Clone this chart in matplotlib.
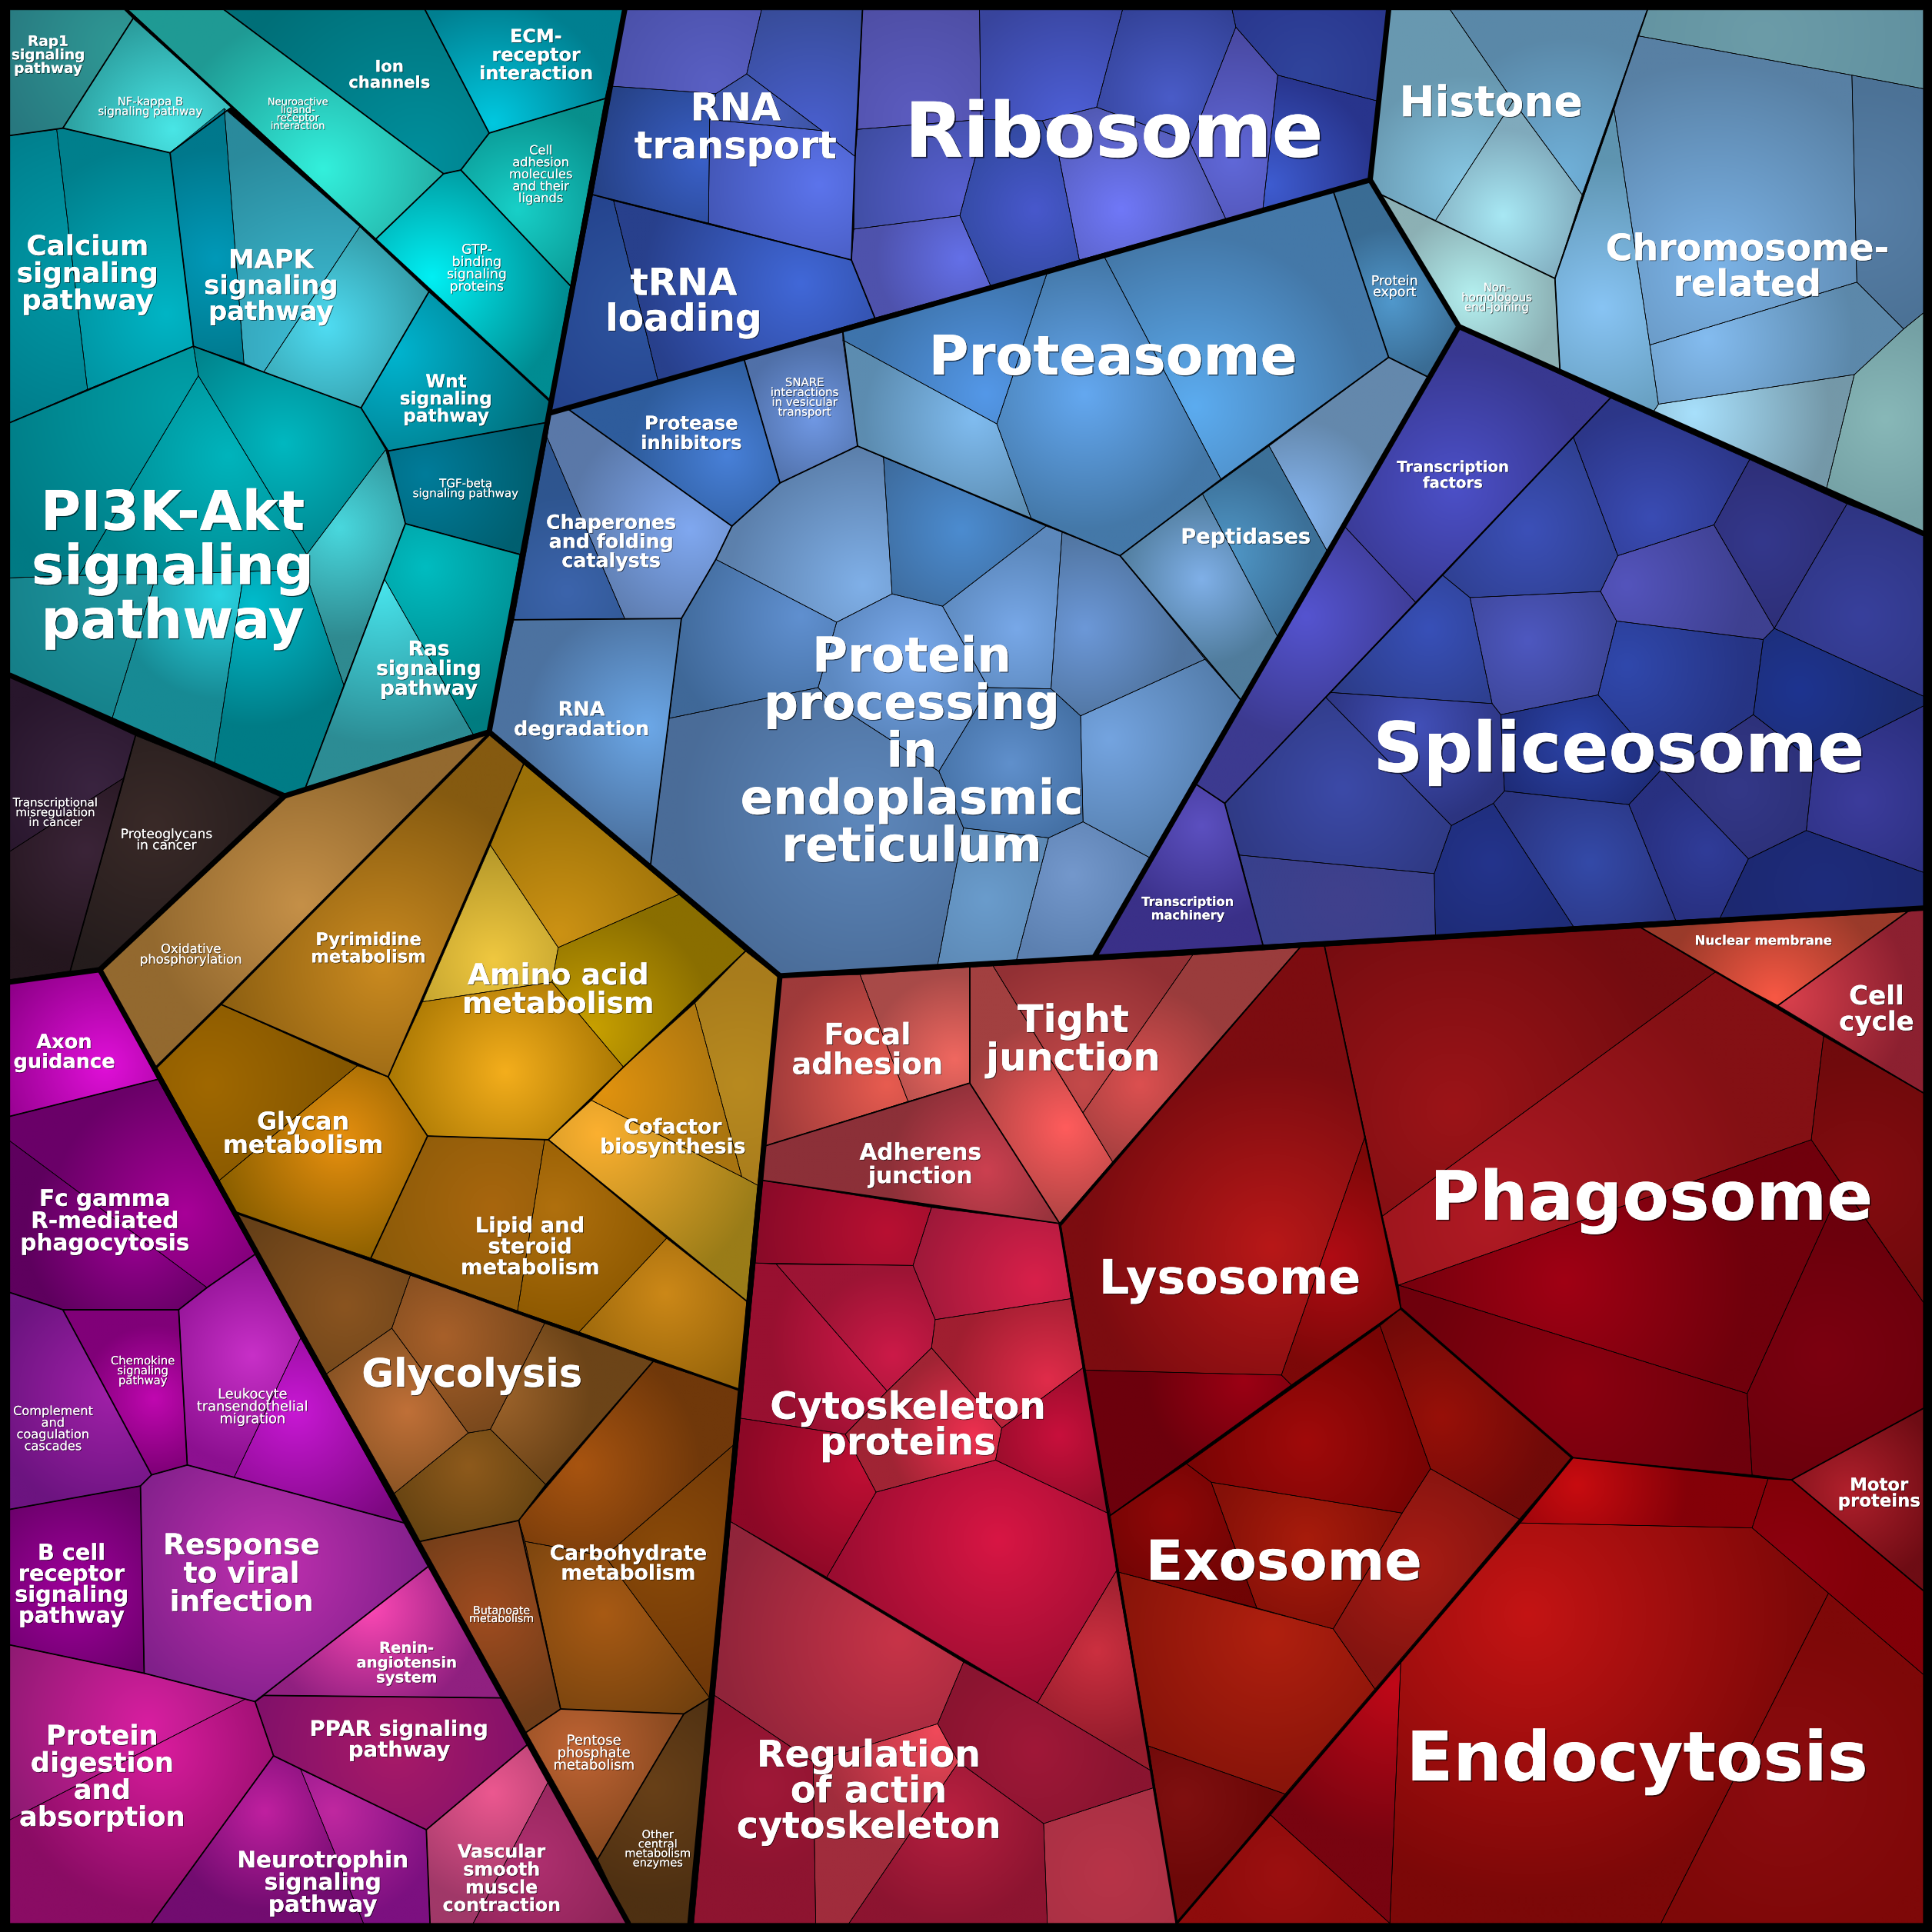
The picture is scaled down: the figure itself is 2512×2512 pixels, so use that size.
import matplotlib
matplotlib.use("Agg")
import matplotlib.pyplot as plt
import matplotlib.patheffects as pe
from matplotlib.colors import to_rgb
from matplotlib.font_manager import FontProperties
from matplotlib.patches import Polygon
from matplotlib.textpath import TextPath
import numpy as np

# picture units: the map is 1568 units across
SIZE = 1568
UNIT_PX = 2512 / SIZE

# --- cells of the map, one list per colour family
teal_cells = [
    [(8,8),(101,8),(108,15),(51,104),(8,110)],
    [(108,15),(188,87),(138,124),(51,104)],
    [(8,110),(46,105),(71,316),(8,343)],
    [(46,105),(51,104),(138,124),(157,281),(71,316)],
    [(138,124),(182,88),(198,295),(157,281)],
    [(182,88),(292,184),(214,302),(198,295)],
    [(292,184),(348,237),(293,331),(214,302)],
    [(348,237),(446,325),(443,343),(315,366),(293,331)],
    [(315,366),(443,343),(423,450),(329,425)],
    [(104,8),(182,8),(360,141),(305,194)],
    [(182,8),(345,8),(397,108),(374,138),(360,141)],
    [(345,8),(507,8),(491,80),(397,108)],
    [(397,108),(491,80),(463,232),(374,138)],
    [(360,141),(374,138),(463,232),(446,325),(305,194)],
    [(8,343),(71,316),(157,281),(161,305),(64,467),(8,469)],
    [(157,281),(214,302),(293,331),(313,365),(249,450),(161,305)],
    [(161,305),(249,450),(247,462),(198,464),(127,466),(64,467)],
    [(313,365),(329,425),(279,556),(247,462),(249,450)],
    [(8,469),(64,467),(127,466),(91,583),(8,549)],
    [(127,466),(198,464),(174,620),(91,583)],
    [(198,464),(247,462),(279,556),(248,639),(231,646),(174,620)],
    [(329,425),(422,450),(397,593),(384,596),(312,470)],
    [(312,470),(384,596),(248,639)],
]
teal_glow = [
    (100,40,110,'#2f9a96','#28787f'), (140,105,95,'#49e6e6','#2a9a9a'),
    (70,220,150,'#009aa8','#007a88'), (135,255,140,'#00b5c5','#007f8c'),
    (175,210,90,'#0099b8','#00788c'), (265,280,170,'#3fc0d8','#2a8a9c'),
    (265,265,100,'#4fdcf2','#30929c'), (320,285,130,'#00b5d0','#006f7c'),
    (345,385,90,'#007c9a','#005f70'), (262,137,130,'#33f0dc','#1f9a94'),
    (340,130,170,'#008f9c','#006f78'), (400,100,100,'#00c8e0','#007f90'),
    (420,170,90,'#18d0c8','#088f8c'), (350,225,110,'#00f0f4','#008c92'),
    (150,330,170,'#00a0a8','#007a84'), (230,360,110,'#00b8c0','#007f88'),
    (185,370,120,'#00b4bc','#008890'), (275,428,90,'#49d8de','#2f8a90'),
    (115,470,130,'#1f9aa4','#157f88'), (178,483,85,'#2ad4e2','#178a94'),
    (205,490,100,'#00bccc','#007c86'), (345,460,130,'#00bcc0','#007c80'),
    (310,475,130,'#48e4ec','#2c8c94'),
]

dark_cells = [
    [(8,549),(110,597),(101,631),(8,691)],
    [(8,691),(101,631),(57,788),(8,795)],
    [(110,597),(231,646),(81,787),(57,788)],
]
dark_glow = [
    (75,640,90,'#3a2440','#28162c'), (70,690,90,'#3b2438','#24161e'),
    (125,670,120,'#3a2a28','#241c1c'),
]

orange_cells = [
    [(231,646),(397,594),(179,815),(127,866),(81,787)],
    [(397,596),(425,620),(315,874),(179,815)],
    [(425,620),(551,726),(453,769),(398,686)],
    [(398,686),(453,769),(448,797),(343,813)],
    [(453,769),(551,726),(605,772),(506,866),(448,797)],
    [(343,813),(448,797),(506,866),(445,925),(347,922),(315,874)],
    [(605,772),(632,793),(615,962),(602,955),(564,814)],
    [(564,814),(602,955),(480,893),(506,866)],
    [(480,893),(602,955),(615,962),(606,1056),(445,925)],
    [(347,922),(442,925),(420,1064),(301,1021)],
    [(445,925),(541,1005),(470,1081),(420,1064),(442,925)],
    [(541,1005),(606,1056),(600,1128),(470,1081)],
    [(127,866),(179,815),(290,865),(178,958)],
    [(290,865),(315,874),(347,922),(301,1021),(191,984),(178,958)],
    [(191,984),(333,1035),(318,1078),(265,1115)],
    [(333,1035),(442,1074),(398,1160),(380,1163),(318,1078)],
    [(265,1115),(318,1078),(380,1163),(320,1212)],
    [(442,1074),(530,1105),(443,1205),(398,1160)],
    [(380,1163),(398,1160),(443,1205),(421,1234),(341,1251),(320,1212)],
    [(530,1105),(600,1128),(595,1173),(491,1263),(426,1251),(421,1234)],
    [(595,1173),(576,1378),(491,1263)],
    [(426,1251),(491,1263),(576,1378),(555,1391),(455,1387)],
    [(341,1251),(421,1234),(426,1251),(455,1387),(427,1406)],
    [(427,1406),(455,1387),(555,1391),(485,1509)],
    [(555,1391),(576,1378),(560,1561),(510,1561),(485,1509)],
]
orange_glow = [
    (244,735,125,'#c59048','#93692f'), (310,785,150,'#ca8a20','#855a10'),
    (453,758,120,'#cc9214','#9a7008'), (400,780,100,'#f0c840','#b09428'),
    (480,835,100,'#c8a000','#8a6e00'), (410,870,110,'#f4ae1c','#9f7000'),
    (600,880,90,'#b88a20','#a87c1c'), (490,885,110,'#e0920e','#a87410'),
    (485,920,140,'#fcb030','#9a7c18'), (400,980,110,'#a8660e','#8a5a08'),
    (450,980,100,'#b0700e','#8c5800'), (540,1050,90,'#cc8818','#96640a'),
    (170,880,110,'#a06800','#845600'), (275,925,100,'#e8900f','#8c6000'),
    (280,1060,100,'#8a5420','#664018'), (360,1085,100,'#a8602a','#70441a'),
    (330,1145,70,'#c07038','#8a5424'), (400,1130,80,'#a0652c','#6c4418'),
    (380,1190,80,'#8e5a1c','#604010'), (470,1190,100,'#a85410','#70380a'),
    (540,1260,110,'#8a4a08','#703808'), (490,1310,110,'#a85a14','#70400e'),
    (395,1310,90,'#a04c20','#6e3c18'), (470,1420,80,'#c06434','#8a4a20'),
    (530,1450,90,'#684018','#4e3012'),
]

purple_cells = [
    [(8,797),(81,787),(128,876),(8,906)],
    [(8,906),(128,876),(207,1018),(168,1045),(8,926)],
    [(8,926),(168,1045),(145,1063),(51,1063),(8,1049)],
    [(8,1049),(51,1063),(123,1197),(114,1206),(8,1225)],
    [(51,1063),(145,1063),(152,1189),(123,1197)],
    [(145,1063),(168,1045),(207,1018),(244,1086),(190,1199),(152,1189)],
    [(244,1086),(328,1236),(190,1199)],
    [(8,1225),(114,1206),(117,1358),(8,1335)],
    [(114,1206),(123,1197),(152,1189),(190,1199),(328,1236),(348,1271),(207,1381),(117,1358)],
    [(348,1271),(407,1378),(214,1376),(207,1381)],
    [(207,1381),(214,1376),(407,1378),(428,1416),(346,1485),(222,1425)],
    [(346,1485),(428,1416),(445,1446),(384,1561),(349,1561)],
    [(445,1446),(510,1561),(384,1561)],
    [(222,1425),(244,1436),(295,1561),(123,1561)],
    [(244,1436),(346,1485),(349,1561),(295,1561)],
    [(8,1335),(117,1358),(199,1379),(8,1477)],
    [(8,1477),(199,1379),(207,1381),(222,1425),(123,1561),(8,1561)],
]
purple_glow = [
    (85,865,100,'#e010d8','#8e0088'), (150,985,110,'#a80098','#6a0068'),
    (110,1000,90,'#9c0094','#5e005e'), (90,1130,100,'#a020a8','#6c1480'),
    (125,1135,60,'#c008b0','#800078'), (205,1100,90,'#c830c8','#8c1090'),
    (240,1145,110,'#c818d4','#7c0880'), (60,1290,90,'#a0009c','#680068'),
    (220,1270,130,'#c030b0','#80208a'), (300,1305,90,'#fc48b4','#902080'),
    (320,1420,120,'#a81a68','#80106a'), (400,1455,90,'#ec5890','#a03868'),
    (430,1510,90,'#b03070','#8e2458'), (215,1470,80,'#c020a0','#720c70'),
    (270,1470,90,'#c028a0','#7c1080'), (120,1400,130,'#d81ea0','#8e1a72'),
    (130,1420,130,'#d81c9c','#8a0c64'),
]

indigo_cells = [
    [(508,8),(618,8),(606,60),(581,76),(497,70)],
    [(618,8),(700,8),(694,127),(667,106),(606,60)],
    [(497,70),(581,76),(576,97),(575,181),(481,158)],
    [(581,76),(606,60),(667,106),(576,97)],
    [(576,97),(667,106),(694,127),(691,211),(575,181)],
    [(481,158),(498,163),(534,309),(447,334)],
    [(498,163),(691,211),(710,258),(534,309)],
    [(700,8),(795,8),(796,97),(696,105)],
    [(795,8),(911,8),(890,87),(846,98),(796,97)],
    [(911,8),(1000,8),(1003,22),(966,116),(953,110),(890,87)],
    [(1003,22),(1037,61),(1025,169),(995,178),(966,116)],
    [(1000,8),(1127,8),(1118,82),(1037,61),(1003,22)],
    [(1037,61),(1118,82),(1112,145),(1025,169)],
    [(696,105),(796,97),(792,126),(779,175),(693,186),(694,127)],
    [(693,186),(779,175),(804,232),(710,258),(691,211)],
    [(796,97),(846,98),(859,125),(876,211),(804,232),(779,175),(792,126)],
    [(846,98),(890,87),(953,110),(966,116),(995,178),(876,211),(859,125)],
    [(1184,265),(1307,323),(1149,489),(1091,427)],
    [(1091,427),(1149,489),(994,652),(970,636)],
    [(1277,355),(1313,451),(1299,480),(1193,485),(1171,467)],
    [(1307,323),(1420,373),(1391,426),(1313,451),(1277,355)],
    [(1420,373),(1499,409),(1440,510),(1391,426)],
    [(1499,409),(1561,433),(1561,565),(1440,510)],
    [(1391,426),(1440,510),(1431,519),(1312,504),(1299,480),(1313,451)],
    [(1193,485),(1299,480),(1312,504),(1297,564),(1218,580),(1211,571)],
    [(1171,467),(1193,485),(1211,571),(1080,562)],
    [(1312,504),(1431,519),(1423,580),(1371,615),(1349,624),(1297,564)],
    [(1431,519),(1440,510),(1561,565),(1561,573),(1472,618),(1423,580)],
    [(1218,580),(1297,564),(1349,624),(1322,653),(1221,642)],
    [(1080,562),(1211,571),(1218,580),(1221,642),(1212,652),(1178,670),(1076,566)],
    [(1076,566),(1178,670),(1164,709),(1006,694),(994,652)],
    [(1006,694),(1164,709),(1165,759),(1025,767)],
    [(970,636),(994,652),(1025,767),(888,777)],
    [(1178,670),(1212,652),(1277,752),(1165,759),(1164,709)],
    [(1212,652),(1221,642),(1322,653),(1360,747),(1277,752)],
    [(1322,653),(1349,624),(1419,697),(1396,745),(1360,747)],
    [(1349,624),(1371,615),(1423,580),(1472,618),(1466,674),(1419,697)],
    [(1472,618),(1561,573),(1561,708),(1466,674)],
    [(1419,697),(1466,674),(1561,708),(1561,737),(1396,745)],
]
indigo_glow = [
    (580,70,100,'#5a60c4','#4a50a8'), (660,110,130,'#4a60d0','#34488e'),
    (570,130,100,'#3a60c8','#243f80'), (620,90,60,'#4a60c0','#38509c'),
    (665,150,120,'#5c74ec','#3d4fa8'), (520,250,120,'#2e55a0','#23408a'),
    (650,230,130,'#4168d8','#28408c'), (745,95,100,'#5c5cc0','#4e4ea4'),
    (870,100,110,'#4e60d8','#38449c'), (950,80,100,'#4a5cc8','#2e3c8c'),
    (1000,130,100,'#6068d8','#4a4aa4'), (1060,60,100,'#30449c','#28348a'),
    (1030,150,90,'#3e5cd0','#28348c'), (780,160,100,'#5860d0','#3e4ca0'),
    (780,210,70,'#6470e8','#4e52ac'), (840,170,80,'#4858cc','#30489c'),
    (910,170,90,'#7078f8','#5058b0'), (1180,395,110,'#4c50c8','#383890'),
    (1060,500,100,'#5554d0','#3c3a90'), (1240,430,100,'#3c50b8','#2c3c88'),
    (1340,420,90,'#3a4cb4','#2c3688'), (1430,440,70,'#34388c','#2e2f78'),
    (1510,500,100,'#38409c','#2e3480'), (1320,475,100,'#5454bc','#3e4090'),
    (1240,520,90,'#4e58c0','#38408c'), (1160,510,90,'#3850b8','#2c3c88'),
    (1320,540,100,'#3048ac','#263484'), (1460,560,90,'#1e3490','#1c2c70'),
    (1280,600,70,'#2c44a8','#1e2c78'), (1150,590,80,'#4250b8','#2c3480'),
    (1090,640,110,'#3c4aa8','#2e3880'), (1090,730,90,'#40408c','#38408c'),
    (975,670,80,'#5c50c0','#3a3088'), (1210,700,70,'#24348c','#1e2c78'),
    (1290,700,80,'#344aa8','#2a3480'), (1385,690,60,'#303c98','#283080'),
    (1410,640,70,'#343888','#2c3078'), (1510,650,80,'#3c3c9c','#2c3080'),
    (1480,720,80,'#1e2c7c','#1c2870'),
]

blue_cells = [
    [(684,269),(850,221),(809,344),(684,276)],
    [(684,276),(809,344),(837,421),(717,371),(696,362)],
    [(850,221),(896,208),(991,389),(909,451),(837,421),(809,344)],
    [(896,208),(1082,155),(1127,290),(991,389)],
    [(1082,155),(1111,146),(1184,265),(1159,306),(1127,290)],
    [(604,292),(684,269),(696,362),(633,392)],
    [(461,332),(604,292),(633,392),(594,427)],
    [(444,355),(507,502),(417,503)],
    [(447,335),(461,332),(594,427),(581,454),(553,502),(507,502),(444,355)],
    [(417,503),(553,502),(543,583),(528,702),(397,594)],
    [(633,392),(696,362),(717,371),(724,482),(679,505),(581,454),(594,427)],
    [(717,371),(849,427),(765,492),(724,482)],
    [(849,427),(862,432),(853,559),(802,558),(765,492)],
    [(862,432),(909,451),(978,535),(877,581),(853,559)],
    [(581,454),(679,505),(664,558),(543,583),(553,502)],
    [(679,505),(724,482),(765,492),(802,558),(788,583),(762,626),(674,569),(664,558)],
    [(543,583),(664,558),(674,569),(762,626),(782,672),(761,783),(634,791),(528,702)],
    [(802,558),(853,559),(877,581),(879,667),(851,680),(782,672),(762,626),(788,583)],
    [(877,581),(978,535),(1007,568),(933,696),(879,667)],
    [(782,672),(851,680),(825,779),(761,783)],
    [(851,680),(879,667),(933,696),(888,777),(825,779)],
    [(1127,290),(1159,306),(1077,447),(1030,362)],
    [(1030,362),(1077,447),(1037,517),(976,401)],
    [(909,451),(976,401),(1037,517),(1007,568),(978,535)],
    [(1127,8),(1177,8),(1228,82),(1165,179),(1121,158),(1112,146)],
    [(1177,8),(1337,8),(1284,158),(1228,82)],
    [(1228,82),(1284,158),(1262,226),(1165,179)],
    [(1121,158),(1262,226),(1266,300),(1184,265)],
    [(1337,8),(1561,8),(1561,72),(1503,61),(1329,29)],
    [(1329,29),(1503,61),(1507,229),(1339,280),(1310,89)],
    [(1503,61),(1561,72),(1561,254),(1545,267),(1507,229)],
    [(1339,280),(1507,229),(1545,267),(1505,304),(1346,328)],
    [(1310,89),(1339,280),(1346,328),(1342,334),(1266,300),(1262,226)],
    [(1346,328),(1505,304),(1482,398),(1342,334)],
    [(1505,304),(1545,267),(1561,254),(1561,433),(1482,398)],
]
blue_glow = [
    (800,320,100,'#5498e8','#3e74ac'), (790,340,90,'#80bcf0','#5c8cb0'),
    (880,320,110,'#64a8f0','#4478a8'), (970,330,140,'#5cacf0','#4478a8'),
    (1130,245,60,'#5098cc','#3a6c94'), (660,340,60,'#7098e4','#5070a8'),
    (590,370,80,'#4880d8','#2e5c9c'), (460,480,80,'#3c64ac','#2e558f'),
    (560,430,100,'#80a8f0','#5a78a8'), (525,590,100,'#6ca8e8','#4c72a0'),
    (700,475,110,'#80b0e8','#5c80ac'), (780,430,90,'#4c8cd0','#3c6898'),
    (825,510,70,'#78a8e8','#5c88bc'), (880,510,80,'#6c98d8','#50749f'),
    (650,500,110,'#6090d0','#3f6898'), (740,530,70,'#7aaaec','#5c88c0'),
    (700,660,150,'#5e88bc','#4a6c98'), (820,620,70,'#6090cc','#4470a4'),
    (900,600,120,'#74a4e0','#5078a4'), (800,730,70,'#6a9ccc','#5c88b4'),
    (870,710,70,'#7498cc','#5c80b0'), (1050,420,80,'#88b8f4','#6488ac'),
    (995,450,70,'#5098c8','#3c7098'), (975,470,70,'#80b0e8','#507c9c'),
    (1190,150,90,'#88c8e4','#6898b0'), (1270,140,110,'#70b0d8','#5a88a8'),
    (1220,175,70,'#a8e8f4','#80aabc'), (1195,240,70,'#b4f0f0','#8cb0b4'),
    (1430,30,150,'#6c9ca8','#60909f'), (1390,220,170,'#7cb4e8','#5880a4'),
    (1510,170,100,'#5880a8','#4c7296'), (1385,275,120,'#84bcf0','#5c88aa'),
    (1300,250,120,'#88c4f4','#5e94b0'), (1375,335,110,'#a8e0fc','#7498a8'),
    (1530,340,80,'#88b8b8','#74a0a4'),
]

red_cells = [
    [(634,793),(698,791),(737,894),(621,930)],
    [(698,791),(787,785),(787,879),(737,894)],
    [(787,785),(806,784),(903,943),(860,993),(787,879)],
    [(806,784),(968,775),(879,903)],
    [(968,775),(1055,769),(903,943),(879,903)],
    [(621,930),(737,894),(787,879),(860,993),(619,958)],
    [(619,958),(756,980),(741,1027),(613,1025)],
    [(756,980),(860,993),(869,1054),(759,1071),(741,1027)],
    [(759,1071),(869,1054),(879,1110),(813,1159),(756,1094)],
    [(613,1025),(630,1026),(720,1129),(686,1164),(601,1151)],
    [(630,1026),(741,1027),(759,1071),(756,1094),(720,1129)],
    [(720,1129),(756,1094),(813,1159),(808,1185),(711,1211),(686,1164)],
    [(813,1159),(879,1110),(901,1229),(808,1185)],
    [(601,1151),(686,1164),(711,1211),(671,1280),(593,1235)],
    [(711,1211),(808,1185),(901,1229),(906,1275),(842,1382),(671,1280)],
    [(906,1275),(934,1437),(842,1382)],
    [(593,1235),(782,1349),(761,1399),(660,1430),(580,1376)],
    [(782,1349),(842,1382),(934,1437),(936,1451),(847,1480),(778,1430),(761,1399)],
    [(761,1399),(778,1430),(689,1561),(662,1561),(660,1430)],
    [(778,1430),(847,1480),(850,1561),(689,1561)],
    [(580,1376),(660,1430),(662,1561),(563,1561)],
    [(847,1480),(936,1451),(955,1561),(850,1561)],
    [(1055,769),(1075,768),(1108,922),(1040,1116),(881,1112),(861,995)],
    [(1108,922),(1137,1062),(1048,1124),(1040,1116)],
    [(881,1112),(1040,1116),(1048,1124),(901,1230)],
    [(963,1188),(1120,1076),(1161,1192),(1138,1228),(983,1203)],
    [(1120,1076),(1137,1062),(1276,1183),(1233,1233),(1161,1192)],
    [(901,1230),(963,1188),(983,1203),(1020,1305),(908,1276)],
    [(983,1203),(1138,1228),(1082,1322),(1020,1305)],
    [(1161,1192),(1233,1233),(1116,1371),(1082,1322),(1138,1228)],
    [(908,1276),(1082,1322),(1116,1371),(1043,1456),(932,1417)],
    [(932,1417),(1043,1456),(955,1561)],
    [(1030,1472),(1043,1456),(1137,1346),(1128,1561)],
    [(955,1561),(1030,1472),(1128,1561)],
    [(1233,1236),(1422,1240),(1484,1293),(1348,1561),(1128,1561),(1137,1346)],
    [(1484,1293),(1561,1359),(1561,1561),(1348,1561)],
    [(1276,1183),(1435,1200),(1422,1240),(1233,1236)],
    [(1435,1200),(1454,1201),(1561,1291),(1561,1359),(1484,1293),(1422,1240)],
    [(1454,1201),(1561,1143),(1561,1291)],
    [(1075,768),(1332,753),(1392,789),(1122,987),(1108,922)],
    [(1122,987),(1392,789),(1480,841),(1470,925),(1135,1043)],
    [(1480,841),(1561,887),(1561,1057),(1470,925)],
    [(1135,1043),(1470,925),(1495,962),(1418,1131)],
    [(1495,962),(1561,1057),(1561,1143),(1454,1201),(1422,1197),(1418,1131)],
    [(1135,1043),(1418,1131),(1422,1197),(1276,1183),(1137,1062)],
    [(1332,753),(1548,740),(1443,816),(1392,789)],
    [(1548,740),(1561,738),(1561,887),(1443,816)],
]
red_glow = [
    (720,880,100,'#e85c50','#9e3a3a'), (775,860,70,'#f06860','#a84a48'),
    (865,915,90,'#ff5c5c','#a24040'), (880,880,110,'#c44a4a','#923034'),
    (925,880,80,'#dc5050','#9a3c3c'), (800,950,80,'#cc4050','#8c3038'),
    (720,1000,110,'#b81032','#880a28'), (840,1040,110,'#d8204a','#981838'),
    (850,1120,80,'#e02c4a','#a01e30'), (725,1090,100,'#d41a4c','#981030'),
    (725,1100,70,'#cc1a48','#9c1434'), (790,1165,70,'#ee3050','#a02434'),
    (860,1165,70,'#c8103c','#900c28'), (700,1190,100,'#c00f34','#8c0826'),
    (810,1250,140,'#d81644','#980c30'), (890,1340,80,'#cc3040','#941c2c'),
    (730,1330,150,'#c83448','#90243a'), (840,1420,80,'#a01838','#8a1430'),
    (760,1405,100,'#f04a5a','#a02c3c'), (770,1470,90,'#b82040','#8c1430'),
    (620,1450,70,'#a01838','#8e1430'), (900,1520,80,'#b83448','#a83044'),
    (1032,1012,150,'#b81818','#7c0c10'), (1080,1020,90,'#b00c14','#7c0808'),
    (1010,1120,80,'#9c0014','#6c000c'), (1060,1170,100,'#a00a0a','#780404'),
    (1170,1150,90,'#981008','#700a08'), (950,1230,70,'#900808','#700404'),
    (1060,1250,80,'#a81c0c','#841008'), (1150,1270,90,'#a81c14','#841410'),
    (1032,1325,130,'#b0200f','#88140a'), (960,1460,70,'#801010','#6c0808'),
    (1132,1367,130,'#c00818','#780410'), (1040,1520,60,'#9c1010','#8e0c0c'),
    (1240,1310,230,'#c41414','#7c0808'), (1450,1450,130,'#8c0c10','#7e0808'),
    (1280,1205,90,'#c80c10','#840008'), (1450,1270,70,'#8e0010','#820008'),
    (1500,1210,80,'#b0202c','#6e0c14'), (1180,900,180,'#9c1418','#740c10'),
    (1210,990,220,'#b01a24','#841014'), (1510,960,100,'#840c10','#700a0c'),
    (1270,1040,150,'#a00014','#70000c'), (1480,1100,100,'#7c0010','#6c000c'),
    (1280,1120,130,'#8c0010','#6e000c'), (1440,810,90,'#f85844','#9a3a2a'),
    (1450,810,100,'#d8404c','#8c2030'),
]

# --- boundaries between pathways, sections and colour families
pathway_edges = [
    [(8,110),(51,104),(108,15)], [(51,104),(138,124),(188,87)], [(138,124),(157,281),(8,343)],
    [(157,281),(293,331),(348,237)], [(293,331),(315,366),(443,343)],
    [(315,366),(329,425),(422,450)], [(329,425),(248,639)],
    [(182,8),(360,141),(305,194)], [(360,141),(374,138),(397,108),(345,8)],
    [(397,108),(491,80)], [(374,138),(463,232)], [(110,597),(57,788)],
    [(425,620),(315,874),(179,815)], [(315,874),(347,922),(445,925),(506,866),(605,772)],
    [(445,925),(606,1056)], [(347,922),(301,1021)],
    [(530,1105),(443,1205),(421,1234),(341,1251)], [(421,1234),(455,1387),(427,1406)],
    [(455,1387),(555,1391),(576,1378)], [(555,1391),(485,1509)],
    [(128,876),(8,906)], [(8,1049),(51,1063),(145,1063),(168,1045),(207,1018)],
    [(51,1063),(123,1197),(114,1206),(8,1225)], [(145,1063),(152,1189),(123,1197)],
    [(152,1189),(190,1199),(328,1236)], [(114,1206),(117,1358),(8,1335)],
    [(117,1358),(207,1381),(348,1271)], [(207,1381),(222,1425),(123,1561)],
    [(207,1381),(214,1376),(407,1378)], [(222,1425),(346,1485),(428,1416)], [(346,1485),(349,1561)],
    [(481,158),(691,211),(710,258)], [(700,8),(694,127),(691,211)],
    [(461,332),(594,427),(581,454),(553,502),(528,702)], [(604,292),(633,392),(696,362),(684,269)],
    [(633,392),(594,427)], [(417,503),(553,502)], [(696,362),(909,451),(1007,568)],
    [(909,451),(991,389),(1127,290),(1159,306)], [(1082,155),(1127,290)],
    [(1121,158),(1262,226),(1266,300)], [(1262,226),(1337,8)],
    [(1307,323),(1149,489),(994,652),(970,636)], [(994,652),(1025,767)],
    [(787,785),(787,879)], [(621,930),(787,879),(860,993)], [(619,958),(860,993)],
    [(860,993),(1055,769)], [(593,1235),(934,1437)],
    [(901,1230),(1137,1062)], [(1075,768),(1137,1062)],
    [(1276,1183),(1435,1200),(1454,1201),(1561,1143)], [(1454,1201),(1561,1291)],
    [(1332,753),(1561,887)], [(1443,816),(1548,740)],
]
section_edges = [
    [(103,8),(446,325)],
    [(397,596),(179,815),(127,866)],
    [(191,984),(600,1128)],
    [(860,993),(955,1561)],
    [(1137,1062),(1276,1183),(1233,1236),(955,1561)],
]
family_edges = [
    [(8,548),(231,646),(397,594),(446,333),(507,8)],
    [(447,335),(1112,146),(1127,8)],
    [(1112,146),(1184,265),(1561,433)],
    [(1184,265),(888,777)],
    [(397,594),(633,792),(888,777),(1561,737)],
    [(633,792),(560,1561)],
    [(231,646),(81,787),(8,797)],
    [(81,787),(510,1561)],
]

# --- labels: text, centre, width of the widest line, distance between lines
labels = [
    "Ribosome", "RNA\ntransport", "tRNA\nloading", "Proteasome", "Histone",
    "Chromosome-\nrelated", "Spliceosome", "Transcription\nfactors", "Transcription\nmachinery",
    "Protein\nexport", "Non-\nhomologous\nend-joining", "Peptidases", "Protease\ninhibitors",
    "SNARE\ninteractions\nin vesicular\ntransport", "Chaperones\nand folding\ncatalysts",
    "RNA\ndegradation", "Protein\nprocessing\nin\nendoplasmic\nreticulum",
    "Rap1\nsignaling\npathway", "NF-kappa B\nsignaling pathway",
    "Neuroactive\nligand-\nreceptor\ninteraction", "Ion\nchannels", "ECM-\nreceptor\ninteraction",
    "Cell\nadhesion\nmolecules\nand their\nligands", "GTP-\nbinding\nsignaling\nproteins",
    "Calcium\nsignaling\npathway", "MAPK\nsignaling\npathway", "Wnt\nsignaling\npathway",
    "TGF-beta\nsignaling pathway", "PI3K-Akt\nsignaling\npathway", "Ras\nsignaling\npathway",
    "Transcriptional\nmisregulation\nin cancer", "Proteoglycans\nin cancer",
    "Oxidative\nphosphorylation", "Pyrimidine\nmetabolism", "Amino acid\nmetabolism",
    "Glycan\nmetabolism", "Cofactor\nbiosynthesis", "Lipid and\nsteroid\nmetabolism",
    "Glycolysis", "Carbohydrate\nmetabolism", "Butanoate\nmetabolism",
    "Pentose\nphosphate\nmetabolism", "Other\ncentral\nmetabolism\nenzymes",
    "Axon\nguidance", "Fc gamma\nR-mediated\nphagocytosis", "Chemokine\nsignaling\npathway",
    "Complement\nand\ncoagulation\ncascades", "Leukocyte\ntransendothelial\nmigration",
    "B cell\nreceptor\nsignaling\npathway", "Response\nto viral\ninfection",
    "Renin-\nangiotensin\nsystem", "PPAR signaling\npathway",
    "Protein\ndigestion\nand\nabsorption", "Neurotrophin\nsignaling\npathway",
    "Vascular\nsmooth\nmuscle\ncontraction", "Focal\nadhesion", "Tight\njunction",
    "Adherens\njunction", "Cytoskeleton\nproteins", "Regulation\nof actin\ncytoskeleton",
    "Lysosome", "Exosome", "Phagosome", "Endocytosis", "Nuclear membrane",
    "Cell\ncycle", "Motor\nproteins",
]
label_x = [
    904, 597, 555, 903, 1210, 1418, 1314, 1179, 964, 1132, 1215, 1011, 561, 653, 496, 472, 740,
    39, 122, 242, 316, 435, 439, 387, 71, 220, 362, 378, 140, 348, 45, 135, 155, 299, 453, 246,
    546, 430, 383, 510, 407, 482, 534, 52, 85, 116, 43, 205, 58, 196, 330, 324, 83, 262, 407,
    704, 871, 747, 737, 705, 998, 1042, 1340, 1329, 1431, 1523, 1525,
]
label_y = [
    105, 102, 243, 288, 82, 215, 606, 385, 737, 232, 241, 435, 351, 322, 439, 583, 608, 44, 86,
    92, 60, 44, 141, 217, 221, 231, 323, 396, 458, 542, 659, 681, 774, 769, 802, 919, 922, 1011,
    1114, 1268, 1310, 1422, 1500, 853, 990, 1112, 1159, 1141, 1285, 1276, 1349, 1411, 1441, 1527,
    1524, 851, 842, 944, 1155, 1452, 1036, 1266, 970, 1425, 763, 818, 1211,
]
label_w = [
    331, 163, 122, 293, 144, 227, 392, 90, 74, 36, 56, 103, 80, 54, 104, 108, 274, 58, 84, 48,
    65, 90, 50, 47, 112, 106, 73, 85, 223, 83, 68, 73, 81, 91, 152, 127, 116, 110, 176, 126, 51,
    64, 52, 81, 135, 51, 64, 89, 90, 124, 80, 142, 132, 136, 94, 120, 140, 98, 220, 211, 207,
    218, 352, 367, 110, 59, 65,
]
label_pitch = [
    0, 31, 29, 0, 0, 29, 0, 13, 11, 9, 8, 0, 16, 8, 15.5, 16, 38.5, 11, 8, 6.5, 13, 15, 9.7, 10,
    22, 21, 14, 8, 44, 16, 8, 9, 8.5, 14, 23, 19, 16, 17, 0, 16, 6.5, 10, 7.6, 16, 18, 8, 9.5,
    10, 17, 23, 12, 17, 22, 18, 14.5, 24, 31, 19, 29, 29, 0, 0, 0, 0, 0, 21, 13,
]

LW_CELL = 0.5
LW_PATHWAY = 1.3
LW_SECTION = 2.4
LW_FAMILY = 5.0


def paint_cell(ax, cell, glow):
    cx, cy, r, inner, outer = glow
    pts = np.array(cell, dtype=float)
    x0, y0 = pts.min(axis=0)
    x1, y1 = pts.max(axis=0)
    xs = np.linspace(x0, x1, max(int((x1 - x0) * UNIT_PX), 2))
    ys = np.linspace(y0, y1, max(int((y1 - y0) * UNIT_PX), 2))
    gx, gy = np.meshgrid(xs, ys)
    t = np.clip(np.hypot(gx - cx, gy - cy) / r, 0, 1)[..., None]
    rgb = np.array(to_rgb(inner)) * (1 - t) + np.array(to_rgb(outer)) * t
    im = ax.imshow(rgb, extent=(x0, x1, y1, y0), origin='upper', aspect='auto',
                   interpolation='bilinear', zorder=1)
    im.set_clip_path(Polygon(pts, closed=True, transform=ax.transData))
    ax.add_patch(Polygon(pts, closed=True, fill=False, edgecolor='black', lw=LW_CELL, zorder=2))


def draw_edges(ax, edges, lw, z):
    for edge in edges:
        xs, ys = zip(*edge)
        ax.plot(xs, ys, color='black', lw=lw, solid_capstyle='round',
                solid_joinstyle='round', zorder=z)


def draw_label(ax, text, x, y, width, pitch):
    lines = text.split("\n")
    weight = 'normal' if 0 < pitch < 11 else 'bold'
    prop = FontProperties(family='DejaVu Sans', weight=weight)
    widest = max(TextPath((0, 0), ln, size=100, prop=prop).get_extents().width for ln in lines)
    size = 100 * width * UNIT_PX * 0.72 / widest
    em = size / 0.72 / UNIT_PX
    off = max(size * 0.02, 0.7)
    effects = [pe.withSimplePatchShadow(offset=(off, -off), shadow_rgbFace='black', alpha=0.6),
               pe.Normal()]
    for i, ln in enumerate(lines):
        base = y + (i - (len(lines) - 1) / 2) * pitch + 0.36 * em
        ax.text(x, base, ln, color='white', fontproperties=prop, fontsize=size,
                ha='center', va='baseline', path_effects=effects, zorder=5)


def main():
    fig = plt.figure(figsize=(25.12, 25.12), dpi=100, facecolor='black')
    ax = fig.add_axes([0, 0, 1, 1], facecolor='black')
    for cells, glows in [(teal_cells, teal_glow), (dark_cells, dark_glow),
                         (orange_cells, orange_glow), (purple_cells, purple_glow),
                         (indigo_cells, indigo_glow), (blue_cells, blue_glow),
                         (red_cells, red_glow)]:
        for cell, glow in zip(cells, glows, strict=True):
            paint_cell(ax, cell, glow)
    draw_edges(ax, [e for e in pathway_edges if e != [(593,1235),(934,1437)]], LW_PATHWAY, 3)
    draw_edges(ax, section_edges, LW_SECTION, 3)
    draw_edges(ax, family_edges, LW_FAMILY, 4)
    for row in zip(labels, label_x, label_y, label_w, label_pitch, strict=True):
        draw_label(ax, *row)
    ax.set_xlim(0, SIZE)
    ax.set_ylim(SIZE, 0)
    ax.axis('off')
    fig.savefig('out.png', dpi=100, facecolor='black')


if __name__ == '__main__':
    main()
